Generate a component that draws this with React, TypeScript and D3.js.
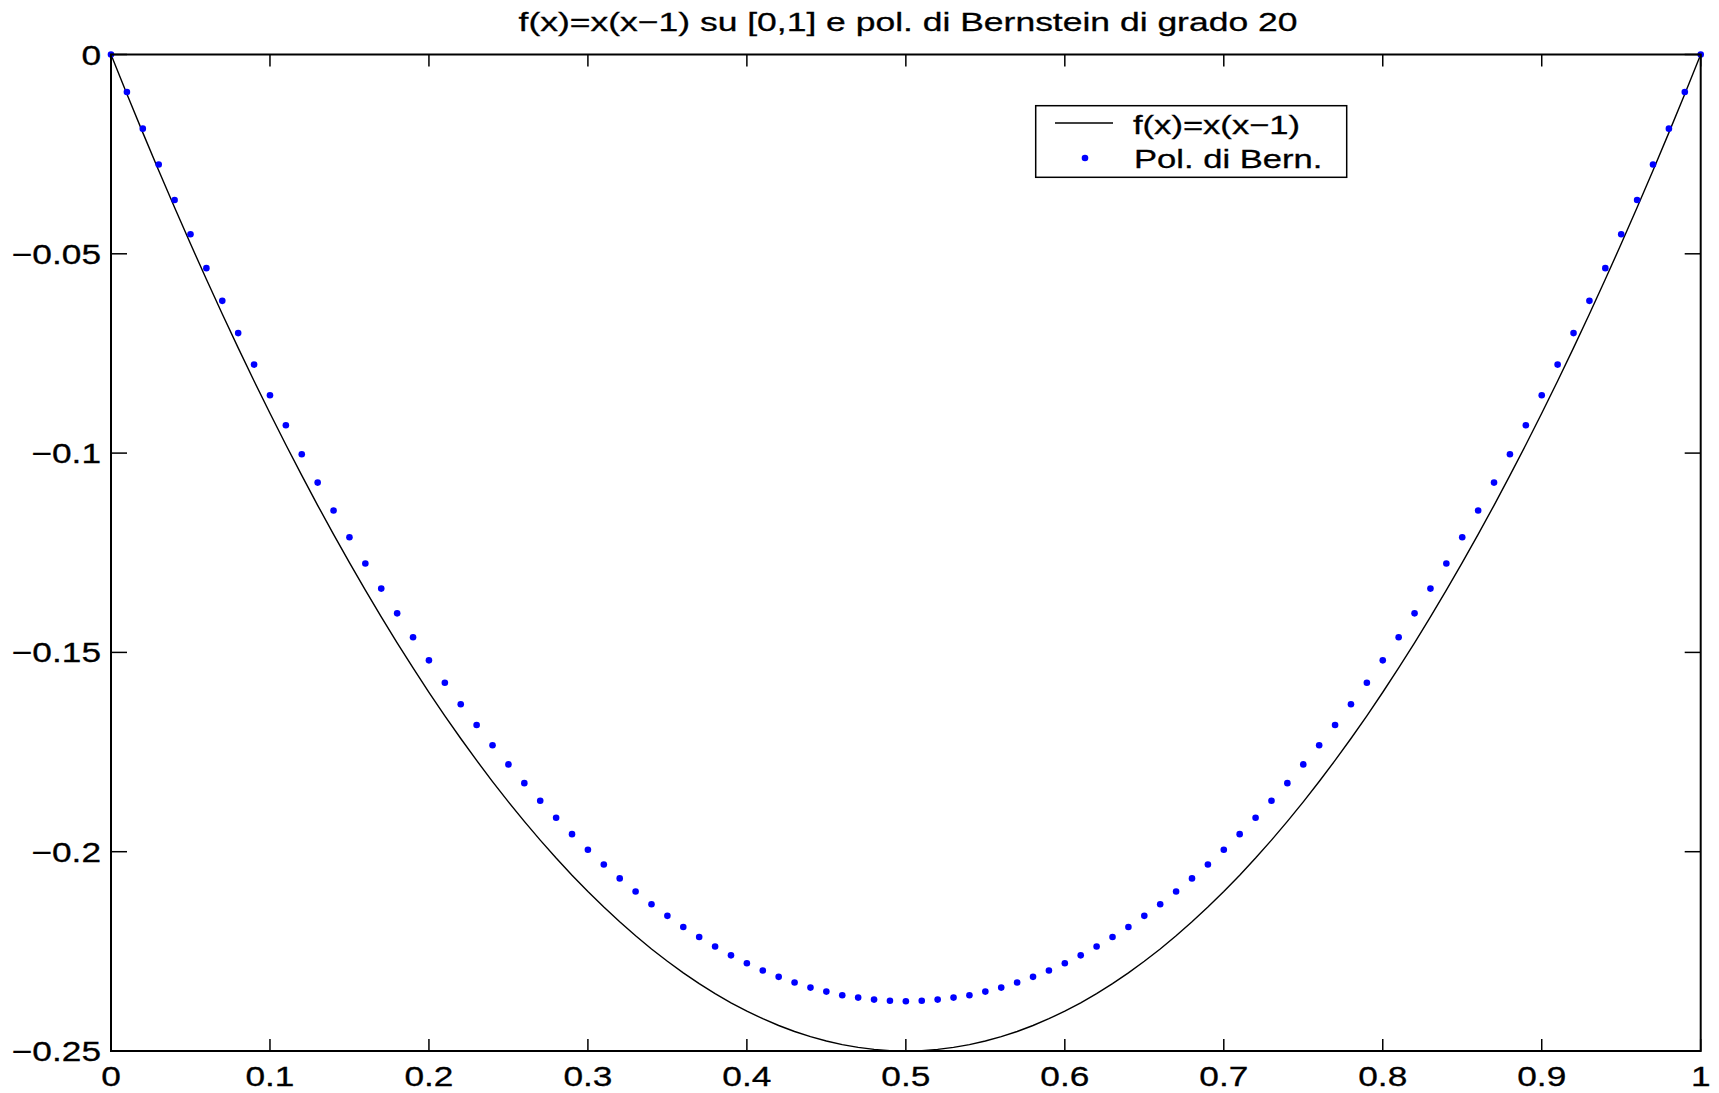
import React from "react";
import * as d3 from "d3";

const title = "f(x)=x(x\u22121) su [0,1] e pol. di Bernstein di grado 20";
const legendLabels = ["f(x)=x(x\u22121)", "Pol. di Bern."];

const xValues = [
  0, 0.01, 0.02, 0.03, 0.04, 0.05, 0.06, 0.07, 0.08, 0.09,
  0.1, 0.11, 0.12, 0.13, 0.14, 0.15, 0.16, 0.17, 0.18, 0.19,
  0.2, 0.21, 0.22, 0.23, 0.24, 0.25, 0.26, 0.27, 0.28, 0.29,
  0.3, 0.31, 0.32, 0.33, 0.34, 0.35, 0.36, 0.37, 0.38, 0.39,
  0.4, 0.41, 0.42, 0.43, 0.44, 0.45, 0.46, 0.47, 0.48, 0.49,
  0.5, 0.51, 0.52, 0.53, 0.54, 0.55, 0.56, 0.57, 0.58, 0.59,
  0.6, 0.61, 0.62, 0.63, 0.64, 0.65, 0.66, 0.67, 0.68, 0.69,
  0.7, 0.71, 0.72, 0.73, 0.74, 0.75, 0.76, 0.77, 0.78, 0.79,
  0.8, 0.81, 0.82, 0.83, 0.84, 0.85, 0.86, 0.87, 0.88, 0.89,
  0.9, 0.91, 0.92, 0.93, 0.94, 0.95, 0.96, 0.97, 0.98, 0.99, 1,
];

const fValues = [
  0, -0.0099, -0.0196, -0.0291, -0.0384, -0.0475, -0.0564, -0.0651, -0.0736, -0.0819,
  -0.09, -0.0979, -0.1056, -0.1131, -0.1204, -0.1275, -0.1344, -0.1411, -0.1476, -0.1539,
  -0.16, -0.1659, -0.1716, -0.1771, -0.1824, -0.1875, -0.1924, -0.1971, -0.2016, -0.2059,
  -0.21, -0.2139, -0.2176, -0.2211, -0.2244, -0.2275, -0.2304, -0.2331, -0.2356, -0.2379,
  -0.24, -0.2419, -0.2436, -0.2451, -0.2464, -0.2475, -0.2484, -0.2491, -0.2496, -0.2499,
  -0.25, -0.2499, -0.2496, -0.2491, -0.2484, -0.2475, -0.2464, -0.2451, -0.2436, -0.2419,
  -0.24, -0.2379, -0.2356, -0.2331, -0.2304, -0.2275, -0.2244, -0.2211, -0.2176, -0.2139,
  -0.21, -0.2059, -0.2016, -0.1971, -0.1924, -0.1875, -0.1824, -0.1771, -0.1716, -0.1659,
  -0.16, -0.1539, -0.1476, -0.1411, -0.1344, -0.1275, -0.1204, -0.1131, -0.1056, -0.0979,
  -0.09, -0.0819, -0.0736, -0.0651, -0.0564, -0.0475, -0.0384, -0.0291, -0.0196, -0.0099, 0,
];

const bernValues = [
  0, -0.0094, -0.0186, -0.0276, -0.0365, -0.0451, -0.0536, -0.0618, -0.0699, -0.0778,
  -0.0855, -0.093, -0.1003, -0.1074, -0.1144, -0.1211, -0.1277, -0.134, -0.1402, -0.1462,
  -0.152, -0.1576, -0.163, -0.1682, -0.1733, -0.1781, -0.1828, -0.1872, -0.1915, -0.1956,
  -0.1995, -0.2032, -0.2067, -0.21, -0.2132, -0.2161, -0.2189, -0.2214, -0.2238, -0.226,
  -0.228, -0.2298, -0.2314, -0.2328, -0.2341, -0.2351, -0.236, -0.2366, -0.2371, -0.2374,
  -0.2375, -0.2374, -0.2371, -0.2366, -0.236, -0.2351, -0.2341, -0.2328, -0.2314, -0.2298,
  -0.228, -0.226, -0.2238, -0.2214, -0.2189, -0.2161, -0.2132, -0.21, -0.2067, -0.2032,
  -0.1995, -0.1956, -0.1915, -0.1872, -0.1828, -0.1781, -0.1733, -0.1682, -0.163, -0.1576,
  -0.152, -0.1462, -0.1402, -0.134, -0.1277, -0.1211, -0.1144, -0.1074, -0.1003, -0.093,
  -0.0855, -0.0778, -0.0699, -0.0618, -0.0536, -0.0451, -0.0365, -0.0276, -0.0186, -0.0094, 0,
];

const xTicks = [0, 0.1, 0.2, 0.3, 0.4, 0.5, 0.6, 0.7, 0.8, 0.9, 1];
const xTickLabels = ["0", "0.1", "0.2", "0.3", "0.4", "0.5", "0.6", "0.7", "0.8", "0.9", "1"];
const yTicks = [0, -0.05, -0.1, -0.15, -0.2, -0.25];
const yTickLabels = ["0", "\u22120.05", "\u22120.1", "\u22120.15", "\u22120.2", "\u22120.25"];

const W = 1719;
const H = 1093;
const L = 111, R = 1700.7, T = 54.5, B = 1051;
const FONT = "'Liberation Sans', Arial, Helvetica, sans-serif";

export default function App() {
  const x = d3.scaleLinear().domain([0, 1]).range([L, R]);
  const y = d3.scaleLinear().domain([-0.25, 0]).range([B, T]);
  const line = d3
    .line<number>()
    .x((_, i) => x(xValues[i]))
    .y((d) => y(d));
  const pathD = line(fValues) || "";

  const tickFS = 28, tickS = 1.26;
  const titleFS = 26, titleS = 1.365;
  const legFS = 26, legS = 1.33;

  return (
    <svg
      width={W}
      height={H}
      style={{ position: "absolute", left: 0, top: 0, background: "#fff" }}
      fontFamily={FONT}
    >
      <rect x={0} y={0} width={W} height={H} fill="#fff" />
      {/* curve */}
      <path d={pathD} fill="none" stroke="#000" strokeWidth={1.4} />
      {/* dots */}
      {bernValues.map((v, i) => (
        <circle key={i} cx={x(xValues[i])} cy={y(v)} r={3.3} fill="#0000ff" />
      ))}
      {/* axes box */}
      <rect x={L} y={T} width={R - L} height={B - T} fill="none" stroke="#000" strokeWidth={2} />
      {/* x ticks */}
      {xTicks.map((t, i) => (
        <g key={"xt" + i}>
          <line x1={x(t)} x2={x(t)} y1={B} y2={B - 12} stroke="#000" strokeWidth={1.5} />
          <line x1={x(t)} x2={x(t)} y1={T} y2={T + 12} stroke="#000" strokeWidth={1.5} />
          <text
            transform={`translate(${x(t)},${B + 35}) scale(${tickS},1)`}
            textAnchor="middle"
            fontSize={tickFS}
            fill="#000"
            stroke="#000"
            strokeWidth={0.3}
          >
            {xTickLabels[i]}
          </text>
        </g>
      ))}
      {/* y ticks */}
      {yTicks.map((t, i) => (
        <g key={"yt" + i}>
          <line x1={L} x2={L + 16} y1={y(t)} y2={y(t)} stroke="#000" strokeWidth={1.5} />
          <line x1={R} x2={R - 16} y1={y(t)} y2={y(t)} stroke="#000" strokeWidth={1.5} />
          <text
            transform={`translate(101,${y(t) + 10}) scale(${tickS},1)`}
            textAnchor="end"
            fontSize={tickFS}
            fill="#000"
            stroke="#000"
            strokeWidth={0.3}
          >
            {yTickLabels[i]}
          </text>
        </g>
      ))}
      {/* title */}
      <text
        transform={`translate(908,31) scale(${titleS},1)`}
        textAnchor="middle"
        fontSize={titleFS}
        fill="#000"
        stroke="#000"
        strokeWidth={0.3}
      >
        {title}
      </text>
      {/* legend */}
      <rect x={1035.7} y={105.7} width={1346.7 - 1035.7} height={177.3 - 105.7} fill="#fff" stroke="#000" strokeWidth={1.5} />
      <line x1={1055} x2={1113} y1={123} y2={123} stroke="#000" strokeWidth={1.4} />
      <circle cx={1085} cy={158} r={3.3} fill="#0000ff" />
      <text transform={`translate(1133,133.5) scale(${legS},1)`} fontSize={legFS} fill="#000" stroke="#000" strokeWidth={0.3}>
        {legendLabels[0]}
      </text>
      <text transform={`translate(1134,167.5) scale(${legS},1)`} fontSize={legFS} fill="#000" stroke="#000" strokeWidth={0.3}>
        {legendLabels[1]}
      </text>
    </svg>
  );
}
